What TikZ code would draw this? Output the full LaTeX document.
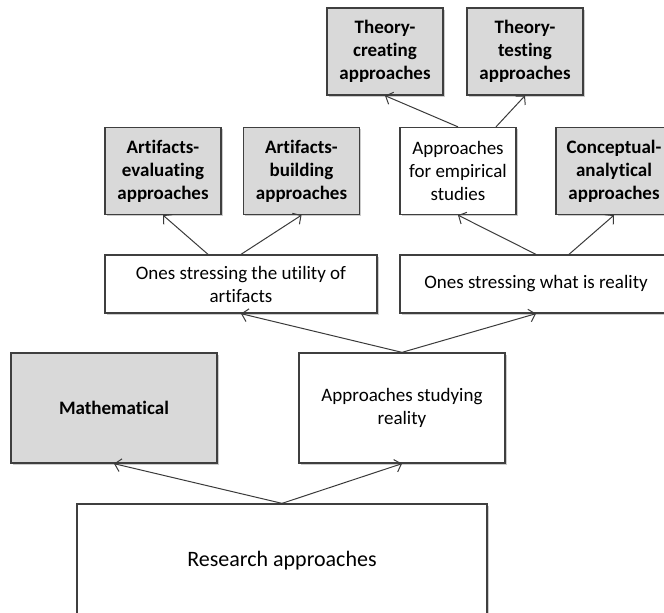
\documentclass[tikz,border=0pt]{standalone}
\usepackage{fontspec}
\setmainfont[Ligatures=NoCommon]{Carlito}
\usetikzlibrary{arrows.meta,shadows}
\definecolor{boxline}{HTML}{3F3F3F}
\definecolor{boxgray}{HTML}{D9D9D9}
\definecolor{linkcol}{HTML}{3A3A3A}
\begin{document}
\begin{tikzpicture}[x=1pt,y=-1pt,
  box/.style={draw=boxline, line width=1.3pt, fill=white, align=center, inner sep=2pt,
    font=\fontsize{19}{23}\selectfont,
    drop shadow={shadow xshift=1.5pt, shadow yshift=-1.5pt, opacity=0.2, fill=black}},
  graybox/.style={box, fill=boxgray, font=\fontsize{19}{23}\selectfont\bfseries},
  small/.style={minimum width=116pt, minimum height=87pt},
  wide/.style={minimum width=272pt, minimum height=58pt},
  mid/.style={minimum width=206pt, minimum height=110pt},
  link/.style={draw=linkcol, line width=1pt, -{Straight Barb[length=6pt,width=13pt]}}]
\useasboundingbox (0,0) rectangle (664,613);

% top row
\node[graybox, small] (tc) at (385,51.5) {Theory-\\creating\\approaches};
\node[graybox, small] (tt) at (525,51.5) {Theory-\\testing\\approaches};

% second row
\node[graybox, small] (ae) at (163,171) {Artifacts-\\evaluating\\approaches};
\node[graybox, small] (ab) at (301.5,171) {Artifacts-\\building\\approaches};
\node[box, small] (emp) at (458,171) {Approaches\\for empirical\\studies};
\node[graybox, small] (ca) at (614,171) {Conceptual-\\analytical\\approaches};

% third row
\node[box, wide] (util) at (241,284) {Ones stressing the utility of\\artifacts};
\node[box, wide] (real) at (536,284) {Ones stressing what is reality};

% fourth row
\node[graybox, mid] (math) at (114,408) {Mathematical};
\node[box, mid] (asr) at (402,408) {Approaches studying\\reality};

% root
\node[box, minimum width=410pt, minimum height=114pt, font=\fontsize{22}{26}\selectfont] (ra) at (282,561) {Research approaches};

% connectors
\draw[link] (ra.north) -- (math.south);
\draw[link] (ra.north) -- (asr.south);
\draw[link] (asr.north) -- (util.south);
\draw[link] (asr.north) -- (real.south);
\draw[link] ([xshift=-33pt]util.north) -- (ae.south);
\draw[link] (util.north) -- (ab.south);
\draw[link] (real.north) -- (emp.south);
\draw[link] ([xshift=33pt]real.north) -- (ca.south);
\draw[link] (emp.north) -- (tc.south);
\draw[link] ([xshift=38pt]emp.north) -- (tt.south);
\end{tikzpicture}
\end{document}
